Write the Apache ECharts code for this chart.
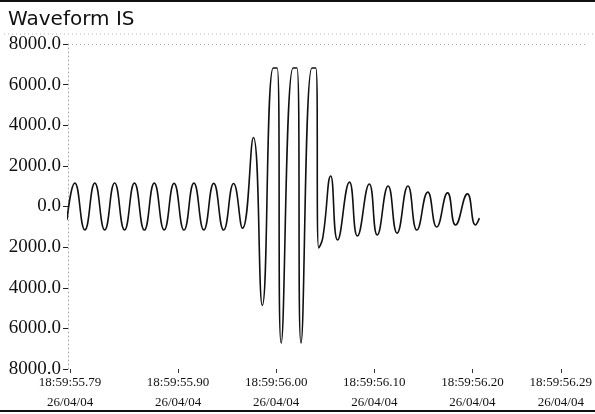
<!DOCTYPE html>
<html>
<head>
<meta charset="utf-8">
<script src="https://cdn.jsdelivr.net/npm/echarts@6/dist/echarts.min.js"></script>
<style>
html,body{margin:0;padding:0;background:#fff;}
#chart{width:595px;height:414px;}
</style>
</head>
<body>
<div id="chart"></div>
<script>
// Time (seconds within 18:59) of each read-off turning point of the waveform
var times = [55.7869, 55.7949, 55.8051, 55.8152, 55.8253, 55.8354, 55.8455, 55.8556, 55.8657, 55.8758,
  55.8859, 55.8960, 55.9061, 55.9162, 55.9263, 55.9364, 55.9465, 55.9566, 55.9657, 55.9768,
  55.9859, 55.9970, 56.0010, 56.0051, 56.0172, 56.0212, 56.0253, 56.0364, 56.0404, 56.0434,
  56.0475, 56.0556, 56.0626, 56.0747, 56.0828, 56.0949, 56.1030, 56.1141, 56.1232, 56.1343,
  56.1434, 56.1545, 56.1636, 56.1747, 56.1828, 56.1949, 56.2030, 56.2071];
// Current values (A) at those points
var values = [-650, 1150, -1150, 1150, -1150, 1160, -1150, 1150, -1160, 1150,
  -1150, 1140, -1160, 1150, -1150, 1140, -1160, 1130, -1070, 3400,
  -4870, 6820, 6820, -6720, 6820, 6820, -6720, 6820, 6820, -2040,
  -1550, 1500, -1650, 1200, -1450, 1110, -1400, 1010, -1310, 1010,
  -1160, 710, -1010, 670, -910, 620, -910, -570];
// X tick positions and labels
var xTicks = [55.79, 55.90, 56.00, 56.10, 56.20, 56.29];
var xTimeLabels = ['18:59:55.79', '18:59:55.90', '18:59:56.00', '18:59:56.10', '18:59:56.20', '18:59:56.29'];
var dateLabel = '26/04/04';
var yMin = -8000, yMax = 8000, yStep = 2000;

var points = times.map(function (t, i) { return [t, values[i]]; });

var chart = echarts.init(document.getElementById('chart'), null, {renderer: 'canvas'});
chart.setOption({
  animation: false,
  backgroundColor: '#ffffff',
  title: {
    text: 'Waveform IS',
    left: 3, top: 5,
    textStyle: {fontFamily: 'DejaVu Sans', fontSize: 20, fontWeight: 'normal', color: '#111'}
  },
  graphic: [
    {type: 'line', shape: {x1: 0, y1: 1, x2: 595, y2: 1}, style: {stroke: '#111', lineWidth: 2}},
    {type: 'line', shape: {x1: 4, y1: 34, x2: 595, y2: 34}, style: {stroke: '#bbb', lineWidth: 1, lineDash: [1, 3]}},
    {type: 'line', shape: {x1: 0, y1: 411, x2: 595, y2: 411}, style: {stroke: '#111', lineWidth: 2}}
  ],
  grid: {left: 68, right: 5, top: 44, bottom: 45, containLabel: false},
  xAxis: {
    type: 'value',
    min: 55.7879, max: 56.3152,
    axisLine: {show: false, onZero: false},
    splitLine: {show: false},
    axisTick: {show: true, customValues: xTicks, length: 4, inside: false, lineStyle: {color: '#333', width: 1}},
    axisLabel: {
      customValues: xTicks,
      margin: 4,
      formatter: function (v) {
        var idx = 0, best = 1e9;
        for (var i = 0; i < xTicks.length; i++) {
          var d = Math.abs(xTicks[i] - v);
          if (d < best) { best = d; idx = i; }
        }
        return '{t|' + xTimeLabels[idx] + '}\n{d|' + dateLabel + '}';
      },
      rich: {
        t: {fontFamily: 'Liberation Serif', fontSize: 13, color: '#111', lineHeight: 20},
        d: {fontFamily: 'Liberation Serif', fontSize: 13, color: '#111', lineHeight: 20}
      }
    }
  },
  yAxis: {
    type: 'value',
    min: yMin, max: yMax, interval: yStep,
    axisLine: {show: true, lineStyle: {color: '#aaa', width: 1, type: [1, 3]}},
    axisTick: {show: true, length: 5, lineStyle: {color: '#222', width: 1}},
    splitLine: {show: false},
    axisLabel: {
      margin: 7,
      fontFamily: 'Liberation Serif', fontSize: 19, color: '#111',
      formatter: function (v) { return Math.abs(v).toFixed(1); }
    }
  },
  series: [{
    type: 'line',
    data: points,
    showSymbol: false,
    smooth: 0.5,
    lineStyle: {color: '#111', width: 1.6},
    markLine: {
      silent: true, symbol: 'none',
      label: {show: false},
      lineStyle: {color: '#aaa', width: 1, type: [1, 3]},
      data: [{yAxis: yMax}]
    }
  }]
});
</script>
</body>
</html>
